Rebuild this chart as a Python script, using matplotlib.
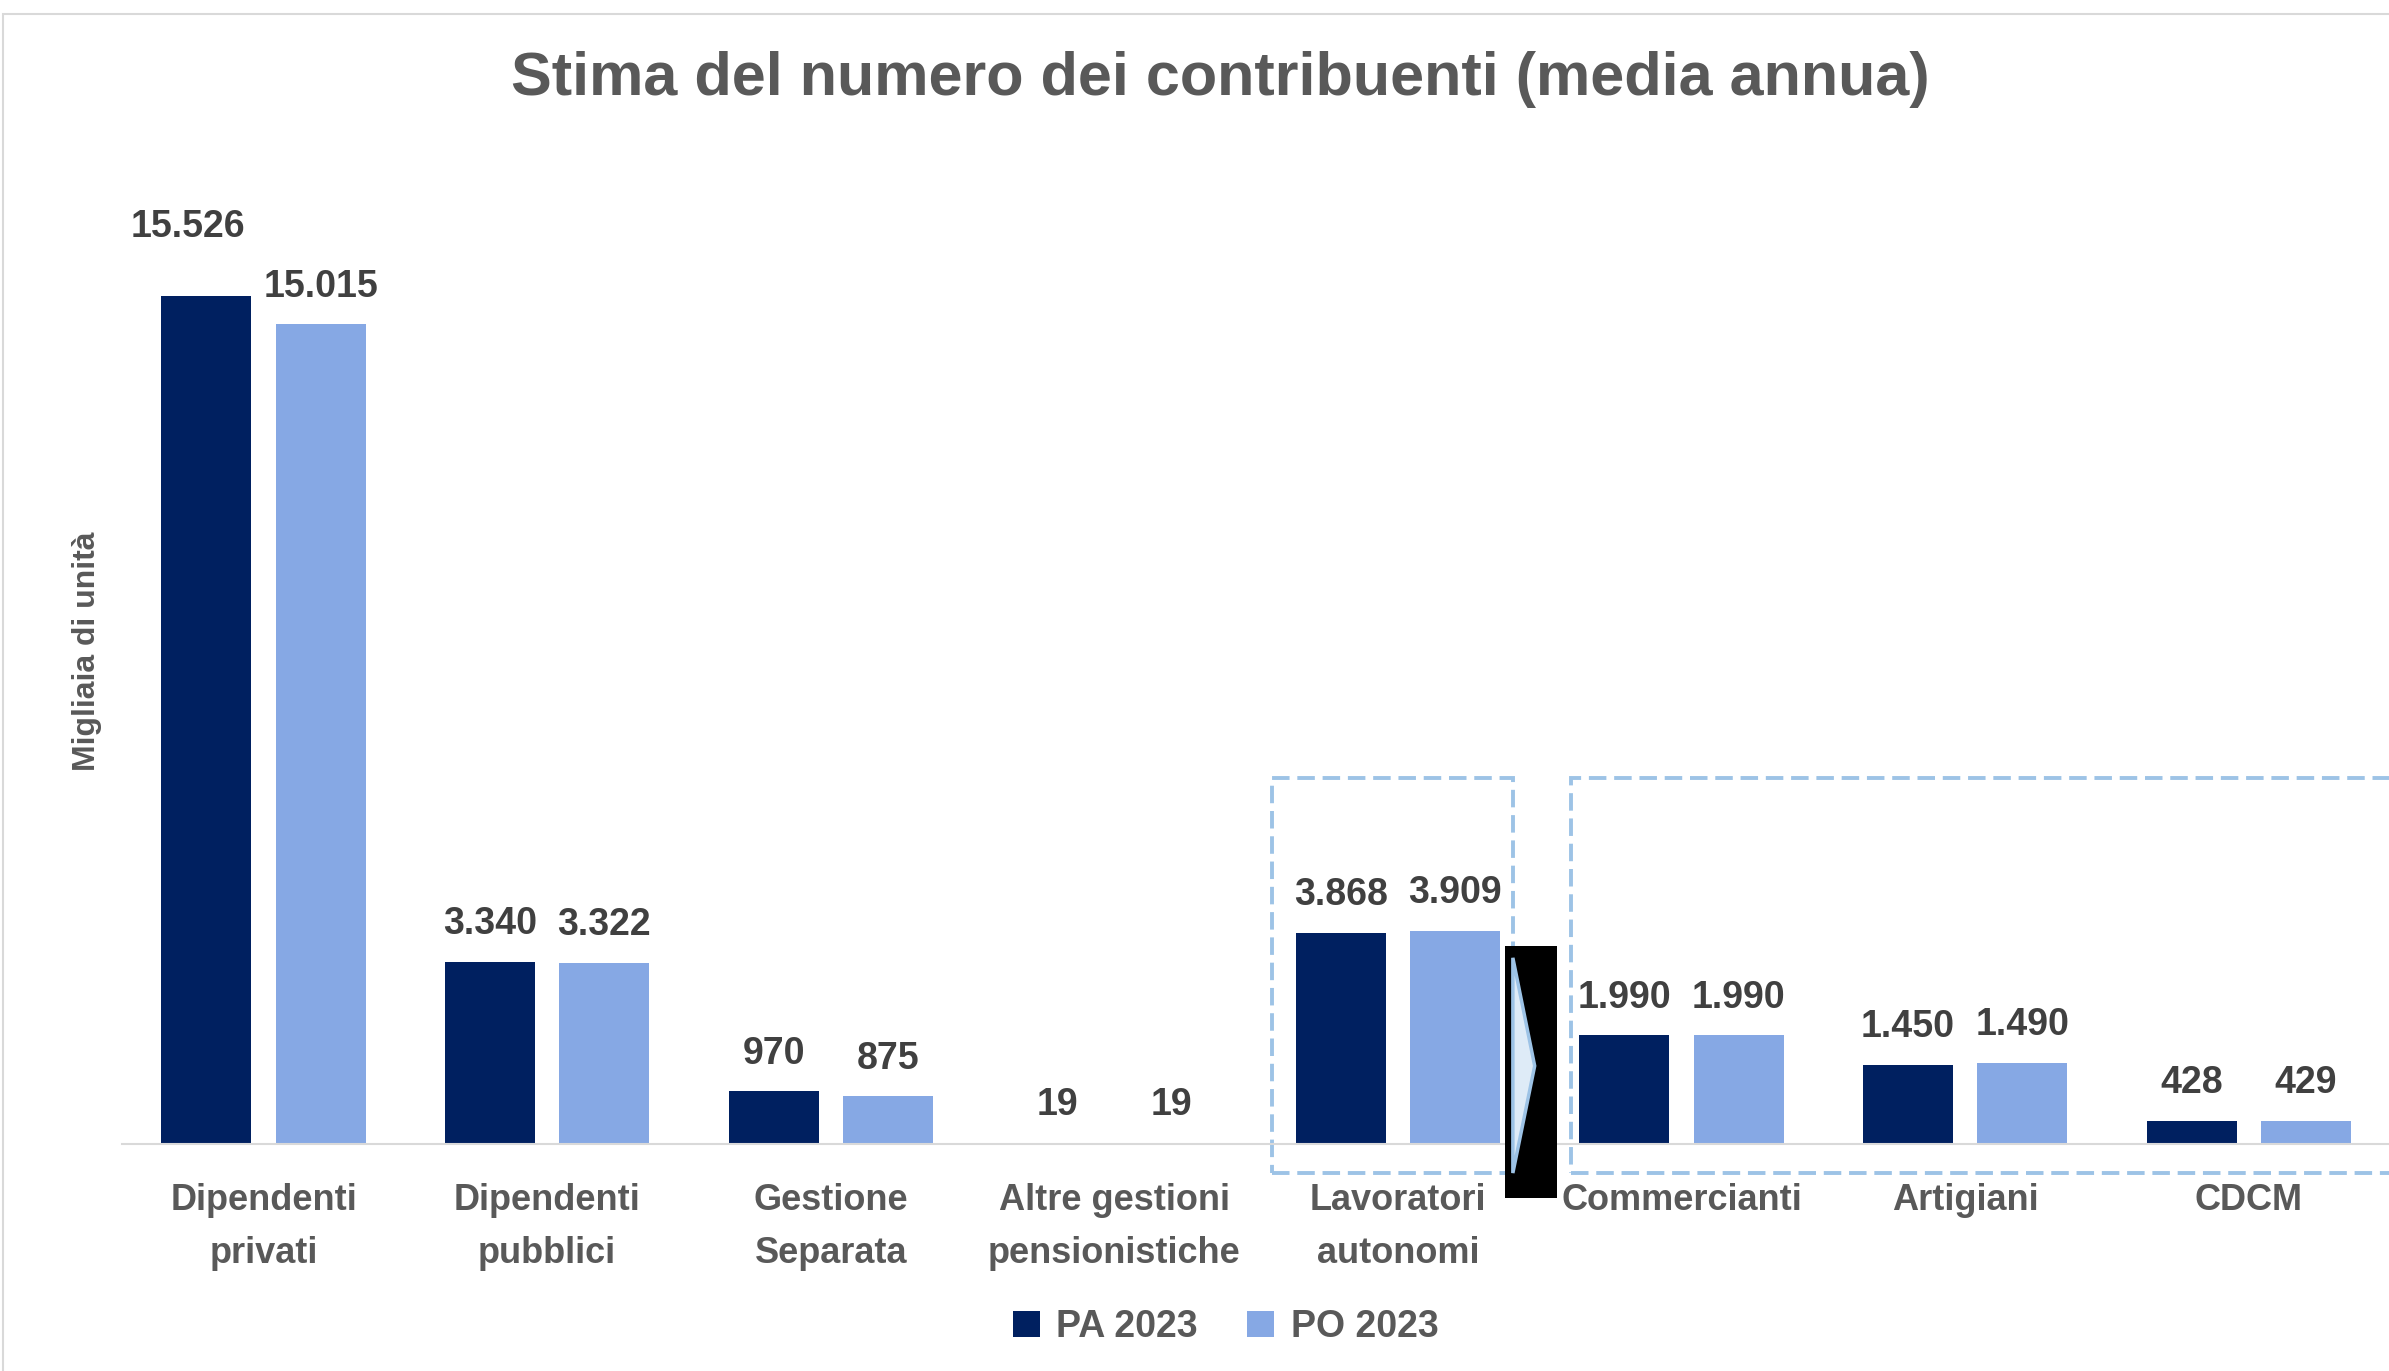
import matplotlib
matplotlib.use("Agg")
import matplotlib.pyplot as plt
from matplotlib.patches import Rectangle, Polygon

categories = ["Dipendenti\nprivati", "Dipendenti\npubblici", "Gestione\nSeparata",
              "Altre gestioni\npensionistiche", "Lavoratori\nautonomi",
              "Commercianti", "Artigiani", "CDCM"]
pa_2023 = [15526, 3340, 970, 19, 3868, 1990, 1450, 428]
po_2023 = [15015, 3322, 875, 19, 3909, 1990, 1490, 429]
series_names = ["PA 2023", "PO 2023"]

DARK = "#002060"
LIGHT = "#86A8E4"
DASH = "#9DC3E6"
TXT = "#595959"
LBL = "#404040"

W, H = 2389, 1371
fig = plt.figure(figsize=(W / 100, H / 100), dpi=100)

# frame of the chart area (only top/left visible)
fig.patches.append(Rectangle((3 / W, -0.1), 1.2, 1 - 14 / H + 0.1, transform=fig.transFigure,
                             fill=False, edgecolor="#D9D9D9", lw=1.5))

base_px = 1144
top_px = 140
ppu = 0.0546  # pixels per unit
ax = fig.add_axes([121.8 / W, (H - base_px) / H, 2268.8 / W, (base_px - top_px) / H])
ax.set_xlim(-0.5, 7.5)
ax.set_ylim(0, (base_px - top_px) / ppu)

x = list(range(len(categories)))
off, bw = 0.2016, 0.317
b1 = ax.bar([i - off for i in x], pa_2023, bw, color=DARK, label=series_names[0])
b2 = ax.bar([i + off for i in x], po_2023, bw, color=LIGHT, label=series_names[1])

def fmt(v):
    return f"{v:,}".replace(",", ".")

for bars, vals in ((b1, pa_2023), (b2, po_2023)):
    for r, v in zip(bars, vals):
        dy, dx = 27, 0
        if v == 15526:
            dy, dx = 50, -13
        ax.annotate(fmt(v), (r.get_x() + r.get_width() / 2, v), xytext=(dx, dy),
                    textcoords="offset points", ha="center", va="center",
                    fontsize=27, fontweight="bold", color=LBL, family="Liberation Sans")

for s in ["top", "right", "left"]:
    ax.spines[s].set_visible(False)
ax.spines["bottom"].set_color("#D9D9D9")
ax.spines["bottom"].set_linewidth(1.5)
ax.set_yticks([])
ax.set_xticks(x)
ax.set_xticklabels(categories, fontsize=26, fontweight="bold", color=TXT,
                   family="Liberation Sans", linespacing=1.68)
ax.tick_params(axis="x", length=0, pad=28)

fig.text(87 / W, 1 - 651 / H, "Migliaia di unità", rotation=90, ha="center", va="center",
         fontsize=23, fontweight="bold", color=TXT,
         family=["Liberation Sans Narrow", "Liberation Sans"])

# dashed highlight boxes and arrow
dash = (0, (4.5, 2))
ax.add_patch(Rectangle((3.556, -532), 4.405 - 3.556, 6710 + 532, fill=False,
                       edgecolor=DASH, lw=2.8, linestyle=dash, clip_on=False))
ax.add_patch(Rectangle((4.610, -532), 4.0, 6710 + 532, fill=False,
                       edgecolor=DASH, lw=2.8, linestyle=dash, clip_on=False))
ax.add_patch(Rectangle((4.377, -990), 4.561 - 4.377, 3630 + 990, facecolor="black",
                       edgecolor="none", clip_on=False, zorder=4))
ax.add_patch(Polygon([(4.405, 3410), (4.482, 1430), (4.405, -532)], closed=True,
                     facecolor="#DEEBF7", edgecolor=DASH, lw=2.5, clip_on=False, zorder=5))

fig.text(0.511, 1 - 79 / H, "Stima del numero dei contribuenti (media annua)",
         ha="center", va="center", fontsize=44, fontweight="bold", color=TXT,
         family=["Liberation Sans Narrow", "Liberation Sans"])

fig.legend(handles=[b1, b2], loc="center", bbox_to_anchor=(0.513, 1 - 1327 / H),
           ncol=2, frameon=False, prop={"family": "Liberation Sans", "weight": "bold", "size": 27},
           labelcolor=TXT, handlelength=0.72, handleheight=0.72, handletextpad=0.45,
           columnspacing=1.3)

fig.savefig("out.png", dpi=100, facecolor="white")
